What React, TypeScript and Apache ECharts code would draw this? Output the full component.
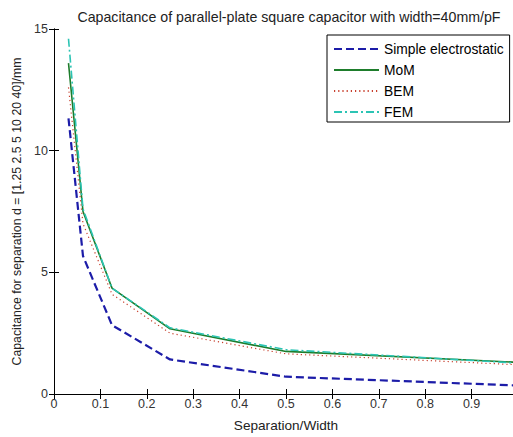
import React, { useEffect, useRef } from "react";
import * as echarts from "echarts";

const separationOverWidth = [0.03125, 0.0625, 0.125, 0.25, 0.5, 1.0];
const simpleValues = [11.33, 5.67, 2.83, 1.42, 0.71, 0.35];
const momValues = [13.6, 7.5, 4.35, 2.68, 1.75, 1.3];
const bemValues = [12.6, 7.0, 4.1, 2.5, 1.65, 1.2];
const femValues = [14.6, 7.6, 4.35, 2.72, 1.82, 1.27];
const seriesNames = ["Simple electrostatic", "MoM", "BEM", "FEM"];
const titleText = "Capacitance of parallel-plate square capacitor with width=40mm/pF";
const xAxisName = "Separation/Width";
const yAxisName = "Capacitance for separation d = [1.25 2.5 5 10 20 40]/mm";

const FONT = "'Liberation Sans', Arial, sans-serif";

function pairs(ys: number[]) {
  return separationOverWidth.map((x, i) => [x, ys[i]]);
}

export default function App() {
  const ref = useRef<HTMLDivElement>(null);
  useEffect(() => {
    if (!ref.current) return;
    const chart = echarts.init(ref.current, undefined, { renderer: "svg" });
    const axisLine = { show: true, lineStyle: { color: "#000", width: 1 } };
    const tick = { show: true, inside: true, length: 5, lineStyle: { color: "#000" } };
    chart.setOption({
      animation: false,
      backgroundColor: "#fff",
      title: {
        text: titleText,
        left: 284,
        textAlign: "center",
        top: 5,
        textStyle: { fontFamily: FONT, fontSize: 14.2, fontWeight: "normal", color: "#222" },
      },
      grid: { left: 54, top: 29, right: 4, bottom: 42 },
      legend: {
        orient: "vertical",
        left: 327,
        top: 35,
        padding: [7, 6, 3, 6],
        itemWidth: 45,
        itemHeight: 12,
        itemGap: 7,
        borderColor: "#000",
        borderWidth: 1,
        backgroundColor: "#fff",
        itemStyle: { color: "rgba(0,0,0,0)", borderColor: "rgba(0,0,0,0)", borderWidth: 0, opacity: 0 },
        textStyle: { fontFamily: FONT, fontSize: 13.8, color: "#000", padding: [0, 0, 0, 0] },
        data: seriesNames,
      },
      xAxis: [
        {
          type: "value",
          min: 0,
          max: 1,
          interval: 0.1,
          name: xAxisName,
          nameLocation: "middle",
          nameGap: 24,
          nameTextStyle: { fontFamily: FONT, fontSize: 13.6, color: "#222" },
          axisLine,
          axisTick: tick,
          axisLabel: { fontFamily: FONT, fontSize: 12.5, color: "#333", margin: 3, showMaxLabel: false },
          splitLine: { show: false },
        },
        {
          type: "value",
          position: "top",
          min: 0,
          max: 1,
          interval: 0.1,
          axisLine,
          axisTick: tick,
          axisLabel: { show: false },
          splitLine: { show: false },
        },
      ],
      yAxis: [
        {
          type: "value",
          min: 0,
          max: 15,
          interval: 5,
          name: yAxisName,
          nameLocation: "middle",
          nameGap: 30,
          nameTextStyle: { fontFamily: FONT, fontSize: 12.3, color: "#222" },
          axisLine,
          axisTick: tick,
          axisLabel: { fontFamily: FONT, fontSize: 12.5, color: "#333", margin: 6 },
          splitLine: { show: false },
        },
        {
          type: "value",
          position: "right",
          min: 0,
          max: 15,
          interval: 5,
          axisLine,
          axisTick: tick,
          axisLabel: { show: false },
          splitLine: { show: false },
        },
      ],
      series: [
        {
          name: seriesNames[0],
          type: "line",
          data: pairs(simpleValues),
          symbol: "none",
          lineStyle: { color: "#1c1ca8", width: 2.2, type: [8, 4] },
          itemStyle: { color: "#1c1ca8" },
        },
        {
          name: seriesNames[1],
          type: "line",
          data: pairs(momValues),
          symbol: "none",
          lineStyle: { color: "#1e7d2c", width: 1.6, type: "solid" },
          itemStyle: { color: "#1e7d2c" },
        },
        {
          name: seriesNames[2],
          type: "line",
          data: pairs(bemValues),
          symbol: "none",
          lineStyle: { color: "#c8402e", width: 1.2, type: [1.2, 3] },
          itemStyle: { color: "#c8402e" },
        },
        {
          name: seriesNames[3],
          type: "line",
          data: pairs(femValues),
          symbol: "none",
          lineStyle: { color: "#2cc4b4", width: 1.6, type: [8, 3, 2, 3] },
          itemStyle: { color: "#2cc4b4" },
        },
      ],
    });
    return () => chart.dispose();
  }, []);
  return (
    <div style={{ position: "absolute", left: 0, top: 0, width: 513, height: 437, overflow: "hidden", background: "#fff" }}>
      <div ref={ref} style={{ width: 522, height: 437 }} />
    </div>
  );
}
